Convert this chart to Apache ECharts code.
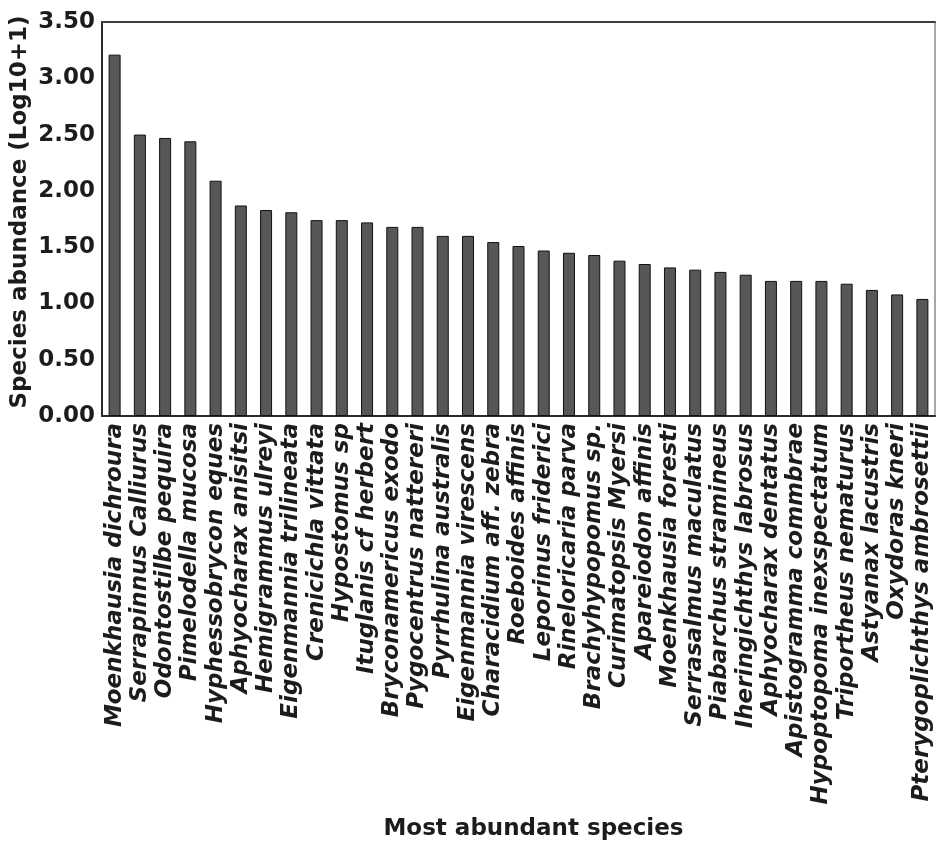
<!DOCTYPE html>
<html>
<head>
<meta charset="utf-8">
<script src="https://cdn.jsdelivr.net/npm/echarts@6/dist/echarts.min.js"></script>
<style>
  html, body { margin: 0; padding: 0; background: #fff; }
  #chart { width: 937px; height: 842px; }
</style>
</head>
<body>
<div id="chart"></div>
<script>
// Species ranked by abundance (log10(n+1))
const species = [
  'Moenkhausia dichroura', 'Serrapinnus Calliurus', 'Odontostilbe pequira', 'Pimelodella mucosa',
  'Hyphessobrycon eques', 'Aphyocharax anisitsi', 'Hemigrammus ulreyi', 'Eigenmannia trilineata',
  'Crenicichla vittata', 'Hypostomus sp', 'Ituglanis cf herbert', 'Bryconamericus exodo',
  'Pygocentrus nattereri', 'Pyrrhulina australis', 'Eigenmannia virescens', 'Characidium aff. zebra',
  'Roeboides affinis', 'Leporinus friderici', 'Rineloricaria parva', 'Brachyhypopomus sp.',
  'Curimatopsis Myersi', 'Apareiodon affinis', 'Moenkhausia foresti', 'Serrasalmus maculatus',
  'Piabarchus stramineus', 'Iheringichthys labrosus', 'Aphyocharax dentatus', 'Apistogramma commbrae',
  'Hypoptopoma inexspectatum', 'Triportheus nematurus', 'Astyanax lacustris', 'Oxydoras kneri',
  'Pterygoplichthys ambrosettii'
];
const abundance = [
  3.21, 2.50, 2.47, 2.44, 2.09, 1.87, 1.83, 1.81,
  1.74, 1.74, 1.72, 1.68, 1.68, 1.60, 1.60, 1.545,
  1.51, 1.47, 1.45, 1.43, 1.38, 1.35, 1.32, 1.30,
  1.28, 1.255, 1.20, 1.20, 1.20, 1.175, 1.12, 1.08,
  1.04
];
const yMin = 0, yMax = 3.5, yStep = 0.5;

const FONT = '"DejaVu Sans", sans-serif';
const INK = '#1e1b1c';

const chart = echarts.init(document.getElementById('chart'), null, { renderer: 'canvas' });
chart.setOption({
  backgroundColor: '#ffffff',
  animation: false,
  grid: { left: 102, right: 2, top: 22, bottom: 426, containLabel: false, outerBoundsMode: 'none' },
  xAxis: [
    {
      type: 'category',
      data: species,
      position: 'bottom',
      axisLine: { onZero: false, lineStyle: { color: '#2b2b2b', width: 2 } },
      axisTick: { show: false },
      axisLabel: {
        rotate: 90,
        interval: 0,
        margin: 7,
        color: INK,
        fontFamily: FONT,
        fontWeight: 'bold',
        fontStyle: 'italic',
        fontSize: 23
      },
      name: 'Most abundant species',
      nameLocation: 'middle',
      nameGap: 402,
      nameMoveOverlap: false,
      nameTextStyle: { color: INK, fontFamily: FONT, fontWeight: 'bold', fontSize: 23, padding: [0, 0, 0, 30] }
    },
    {
      type: 'category',
      data: species,
      position: 'top',
      axisLine: { onZero: false, lineStyle: { color: '#3a3f44', width: 2 } },
      axisTick: { show: false },
      axisLabel: { show: false }
    }
  ],
  yAxis: [
    {
      type: 'value',
      min: yMin,
      max: yMax,
      interval: yStep,
      position: 'left',
      axisLine: { show: true, onZero: false, lineStyle: { color: '#2b2b2b', width: 2 } },
      axisTick: { show: false },
      splitLine: { show: false },
      axisLabel: {
        margin: 7,
        color: INK,
        fontFamily: FONT,
        fontWeight: 'bold',
        fontSize: 23,
        formatter: v => v.toFixed(2)
      },
      name: 'Species abundance (Log10+1)',
      nameLocation: 'middle',
      nameGap: 70,
      nameMoveOverlap: false,
      nameTextStyle: { color: INK, fontFamily: FONT, fontWeight: 'bold', fontSize: 23, padding: [0, 0, 0, 14] }
    },
    {
      type: 'value',
      min: yMin,
      max: yMax,
      interval: yStep,
      position: 'right',
      axisLine: { show: true, onZero: false, lineStyle: { color: '#8a8a8a', width: 1.5 } },
      axisTick: { show: false },
      splitLine: { show: false },
      axisLabel: { show: false }
    }
  ],
  series: [
    {
      type: 'bar',
      xAxisIndex: 0,
      yAxisIndex: 0,
      data: abundance,
      barWidth: 12,
      itemStyle: { color: '#575757', borderColor: '#111', borderWidth: 1 }
    }
  ]
});
</script>
</body>
</html>
